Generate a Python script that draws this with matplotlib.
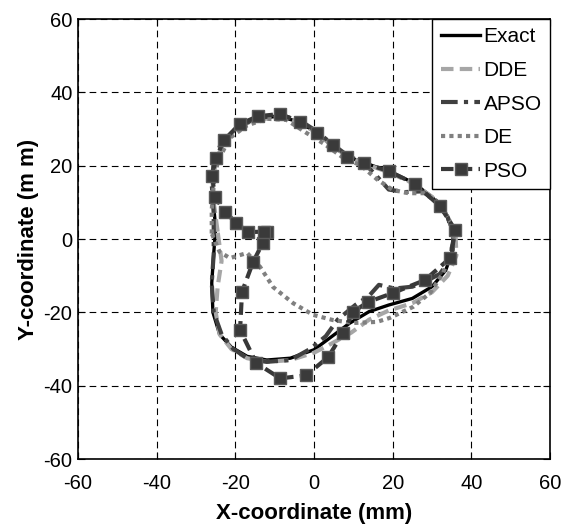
import matplotlib
matplotlib.use("Agg")
import matplotlib.pyplot as plt

plt.rcParams['font.family'] = ['Liberation Sans', 'DejaVu Sans']
plt.rcParams['axes.unicode_minus'] = False

# Exact trajectory
exact_x = [-25.0, -25.6, -25.8, -25.0, -23.0, -19.5, -15.0, -9.0, -4.0, 0.0, 4.0, 8.5, 13.0, 19.0,
           25.0, 30.0, 33.5, 35.3, 35.3, 33.5, 30.0, 25.0, 19.0, 14.0, 9.0, 4.0, 0.0, -6.0,
           -12.0, -17.0, -21.0, -24.0, -25.7, -26.0, -25.5, -25.0]
exact_y = [3.0, 10.0, 16.0, 21.0, 26.5, 30.5, 32.8, 33.5, 32.0, 29.5, 26.0, 22.5, 20.7, 18.5,
           15.5, 11.5, 7.0, 2.0, -3.0, -8.5, -13.0, -16.2, -18.0, -19.8, -23.0, -27.0, -30.2, -32.5,
           -33.0, -32.0, -29.5, -26.0, -20.0, -12.0, -4.0, 3.0]

# DDE
dde_x = [-24.5, -25.5, -25.8, -25.0, -23.0, -19.5, -15.0, -9.0, -4.0, 0.0, 4.0, 8.5, 13.0, 19.0,
         25.0, 30.0, 33.8, 36.0, 36.2, 34.0, 30.0, 25.0, 19.0, 14.0, 9.5, 4.5, 0.0, -6.0,
         -12.0, -17.0, -21.0, -24.0, -25.0, -24.5, -23.5, -24.5]
dde_y = [2.0, 10.0, 16.0, 21.0, 26.5, 30.5, 32.5, 33.2, 31.8, 29.5, 26.0, 22.5, 20.5, 18.2,
         15.3, 11.5, 6.5, 1.0, -4.5, -10.0, -14.5, -17.5, -19.5, -22.0, -25.5, -28.5, -31.0, -33.0,
         -33.5, -32.5, -30.0, -26.0, -20.0, -13.0, -6.0, 2.0]

# APSO
apso_x = [-25.5, -26.0, -25.5, -23.5, -19.5, -14.5, -8.5, -3.5, 0.5, 4.5, 8.5, 13.0, 16.5, 19.0,
          23.0, 27.5, 31.0, 34.0, 35.5, 35.0, 32.0, 28.5, 25.0, 20.5, 16.5, 14.0, 10.5, 6.0,
          3.0, -1.0, -6.0, -12.0, -17.0, -20.5, -23.5, -25.5, -26.0, -25.5, -25.5, -25.5]
apso_y = [7.0, 15.0, 21.0, 26.5, 30.5, 33.0, 33.8, 32.3, 29.5, 26.0, 22.8, 20.5, 16.5, 13.5,
          12.8, 13.0, 10.5, 6.0, 0.5, -5.0, -9.5, -11.5, -13.0, -13.5, -12.5, -15.5, -18.0, -22.0,
          -26.5, -30.0, -33.0, -33.5, -32.5, -30.0, -26.0, -20.0, -12.0, -4.0, 3.0, 7.0]

# DE
de_x = [-26.0, -26.0, -25.5, -24.5, -21.5, -17.0, -12.0, -7.0, -2.0, 2.5, 7.0, 12.0, 16.0, 20.0,
        24.0, 28.0, 32.0, 34.5, 35.5, 34.5, 32.8, 29.5, 25.2, 19.3, 16.0, 10.0, 4.8, -0.2,
        -5.3, -10.4, -13.7, -17.0, -21.4, -24.0, -26.0]
de_y = [1.5, 8.0, 15.0, 21.0, 27.5, 31.0, 32.8, 32.5, 29.0, 26.0, 22.5, 20.0, 16.3, 13.4,
        12.5, 12.5, 9.5, 5.0, 0.0, -5.0, -9.3, -14.7, -18.5, -21.5, -22.6, -22.9, -22.1, -20.7,
        -17.5, -13.1, -7.6, -3.8, -5.2, -3.5, 1.5]

# PSO
pso_x = [-12.0, -13.0, -15.5, -18.3, -18.8, -14.7, -8.6, -2.0, 3.6, 7.4, 9.9, 13.7, 20.1, 28.2,
         34.6, 35.9, 32.0, 25.7, 19.1, 12.7, 8.4, 4.8, 0.8, -3.6, -8.6, -14.2, -18.8, -22.9,
         -24.9, -25.9, -25.2, -22.6, -19.8, -16.8, -12.8]
pso_y = [1.8, -1.0, -6.3, -14.4, -24.8, -33.8, -38.0, -37.2, -32.2, -25.6, -19.9, -17.2, -14.7, -11.2,
         -5.2, 2.5, 9.0, 15.0, 18.5, 20.7, 22.4, 25.6, 28.9, 31.9, 34.1, 33.5, 31.4, 27.0,
         22.1, 17.2, 11.5, 7.4, 4.4, 1.9, 2.0]

fig = plt.figure(figsize=(5.67, 5.29), dpi=100)
ax = fig.add_axes([0.1376, 0.1323, 0.8324, 0.8317])

ax.plot(exact_x, exact_y, color='black', lw=2.4, label='Exact', zorder=3)
ax.plot(dde_x, dde_y, color='#a6a6a6', lw=3, ls=(0, (3, 1.5)), label='DDE', zorder=3)
ax.plot(apso_x, apso_y, color='#404040', lw=3, ls=(0, (4, 1.5, 1, 1.5)), label='APSO', zorder=3)
ax.plot(de_x, de_y, color='#808080', lw=3, ls=(0, (1, 1)), label='DE', zorder=3)
ax.plot(pso_x, pso_y, color='#383838', lw=3, ls=(0, (3, 1.5)), marker='s', ms=9,
        mfc='#3a3a3a', mec='#5a5a5a', mew=1, label='PSO', zorder=4)

ax.set_xlim(-60, 60)
ax.set_ylim(-60, 60)
ax.set_xticks(range(-60, 61, 20))
ax.set_yticks(range(-60, 61, 20))
ax.grid(True, color='black', ls=(0, (6, 4)), lw=0.8)
ax.tick_params(direction='in', top=True, right=True, labelsize=14.5, length=5)
ax.tick_params(axis='x', pad=11)
ax.tick_params(axis='y', pad=4)
for s in ax.spines.values():
    s.set_linewidth(1.2)

ax.set_xlabel('X-coordinate (mm)', fontsize=16, fontweight='bold', labelpad=7)
ax.set_ylabel('Y-coordinate (m m)', fontsize=16, fontweight='bold', labelpad=3)

leg = ax.legend(loc='upper right', fontsize=15, borderaxespad=0, fancybox=False,
                framealpha=1, edgecolor='black', handlelength=1.9, labelspacing=0.7,
                handletextpad=0.15, borderpad=0.4)
leg.get_frame().set_linewidth(1)

fig.savefig('out.png', dpi=100)
